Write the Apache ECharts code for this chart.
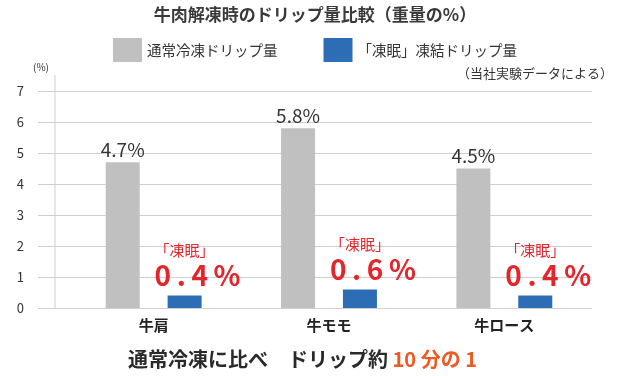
<!DOCTYPE html>
<html>
<head>
<meta charset="utf-8">
<script src="https://cdn.jsdelivr.net/npm/echarts@6/dist/echarts.min.js"></script>
<style>
html,body{margin:0;padding:0;background:#fff;}
#chart{width:630px;height:376px;}
</style>
</head>
<body>
<div id="chart"></div>
<script>
var categories = ['牛肩', '牛モモ', '牛ロース'];
var normalDrip = [4.7, 5.8, 4.5];
var tominDrip = [0.4, 0.6, 0.4];
var seriesNames = ['通常冷凍ドリップ量', '「凍眠」凍結ドリップ量'];
var yTicks = [0, 7, 1];

var FONT = '"Noto Sans CJK JP", "Noto Sans", sans-serif';
var GRID = '#cfcfcf';

function spaced(v){
    return v.toFixed(1).split('').join('\u2009') + '\u2009%';
}

var option = {
    animation: false,
    textStyle: { fontFamily: FONT },
    title: {
        text: '牛肉解凍時のドリップ量比較（重量の%）',
        left: 'center',
        top: 1,
        textStyle: { fontSize: 17, fontWeight: 'bold', color: '#3a3a3a', fontFamily: FONT }
    },
    legend: {
        top: 33,
        left: 'center',
        itemWidth: 29,
        itemHeight: 24,
        itemGap: 46,
        icon: 'rect',
        textStyle: { fontSize: 14.5, color: '#333', fontFamily: FONT },
        data: seriesNames
    },
    grid: { left: 66, right: 38, top: 91, bottom: 68 },
    xAxis: {
        type: 'category',
        data: categories,
        axisLine: { show: false },
        axisTick: { show: false },
        axisLabel: { fontSize: 15, fontWeight: 'bold', color: '#222', margin: 10, fontFamily: FONT }
    },
    yAxis: {
        type: 'value',
        min: yTicks[0],
        max: yTicks[1],
        interval: yTicks[2],
        axisLine: { show: false },
        axisTick: { show: true, length: 28, lineStyle: { color: GRID } },
        splitLine: { lineStyle: { color: GRID, width: 1 } },
        axisLabel: { fontSize: 13, color: '#333', margin: 42, fontFamily: FONT }
    },
    graphic: [
        { type: 'line', shape: { x1: 55, y1: 75, x2: 55, y2: 308 }, style: { stroke: GRID, lineWidth: 1 } },
        { type: 'text', left: 33, top: 62, style: { text: '(%)', fill: '#333', font: '10px ' + FONT } },
        { type: 'text', right: 17, top: 67, style: { text: '（当社実験データによる）', fill: '#333', font: '13px ' + FONT } },
        {
            type: 'text', left: 128, top: 349,
            style: {
                text: '{a|通常冷凍に比べ　ドリップ約 }{b|10 分の 1}',
                rich: {
                    a: { fontSize: 20, fontWeight: 'bold', fill: '#2a2a2a', fontFamily: FONT },
                    b: { fontSize: 20, fontWeight: 'bold', fill: '#ee5a24', fontFamily: FONT }
                }
            }
        }
    ],
    series: [
        {
            name: seriesNames[0],
            type: 'bar',
            data: normalDrip,
            barWidth: 34,
            barGap: '82%',
            itemStyle: { color: '#c0c0c0' },
            label: {
                show: true,
                position: 'top',
                distance: 3,
                formatter: '{c}%',
                fontSize: 19,
                color: '#333',
                fontFamily: FONT
            }
        },
        {
            name: seriesNames[1],
            type: 'bar',
            data: tominDrip,
            barWidth: 34,
            itemStyle: { color: '#2c6db6' },
            label: {
                show: true,
                position: 'top',
                align: 'left',
                distance: 5,
                offset: [-30, 0],
                formatter: function(p){
                    return '{a|「凍眠」}\n{b|' + spaced(p.value) + '}';
                },
                rich: {
                    a: { fontSize: 15, color: '#e3262c', lineHeight: 20, fontFamily: FONT },
                    b: { fontSize: 28, fontWeight: 'bold', color: '#e3262c', lineHeight: 30, fontFamily: FONT }
                }
            }
        }
    ]
};

var chart = echarts.init(document.getElementById('chart'));
chart.setOption(option);
</script>
</body>
</html>
